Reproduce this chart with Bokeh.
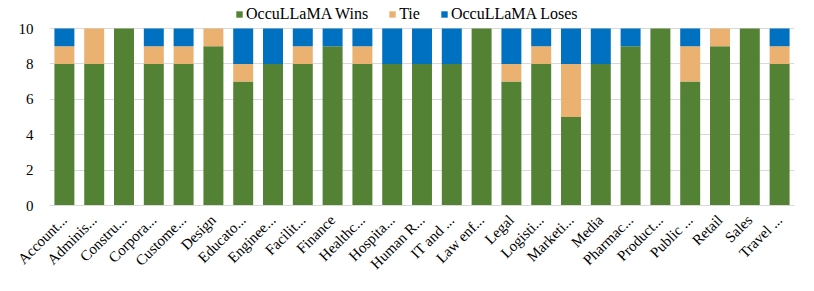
import math
from bokeh.plotting import figure
from bokeh.models import FactorRange, Range1d, FixedTicker, Legend, LegendItem
from bokeh.embed import file_html
from bokeh.resources import INLINE

categories = ["Account...", "Adminis...", "Constru...", "Corpora...", "Custome...", "Design",
              "Educato...", "Enginee...", "Facilit...", "Finance", "Healthc...", "Hospita...",
              "Human R...", "IT and ...", "Law enf...", "Legal", "Logisti...", "Marketi...",
              "Media", "Pharmac...", "Product...", "Public ...", "Retail", "Sales", "Travel ..."]
wins = [8, 8, 10, 8, 8, 9, 7, 8, 8, 9, 8, 8, 8, 8, 10, 7, 8, 5, 8, 9, 10, 7, 9, 10, 8]
ties = [1, 2, 0, 1, 1, 1, 1, 0, 1, 0, 1, 0, 0, 0, 0, 1, 1, 3, 0, 0, 0, 2, 1, 0, 1]
loses = [1, 0, 0, 1, 1, 0, 2, 2, 1, 1, 1, 2, 2, 2, 0, 2, 1, 2, 2, 1, 0, 1, 0, 0, 1]
series = ["OccuLLaMA Wins", "Tie", "OccuLLaMA Loses"]
colors = ["#548235", "#EAB171", "#0070C0"]
y_ticks = [0, 2, 4, 6, 8, 10]

FONT = "Liberation Serif"

# frame spans from 4px to 205px; value 10 sits at 28px, leaving room for the legend
p = figure(width=806, height=283, output_backend="svg", toolbar_location=None,
           x_range=FactorRange(*categories, range_padding=0),
           y_range=Range1d(0, 10 * 201 / 177), min_border_left=49, min_border_right=12,
           min_border_top=4, min_border_bottom=78)

src = dict(cat=categories, w=wins, t=ties, l=loses)
rs = p.vbar_stack(["w", "t", "l"], x="cat", width=0.67, color=colors, source=src, line_width=0)

p.outline_line_color = None
p.xgrid.grid_line_color = None
p.ygrid.grid_line_color = "#D9D9D9"
p.ygrid.ticker = FixedTicker(ticks=y_ticks)

p.yaxis.ticker = FixedTicker(ticks=y_ticks)
p.yaxis.axis_line_color = None
p.yaxis.major_tick_line_color = None
p.yaxis.minor_tick_line_color = None
p.yaxis.major_label_text_font = FONT
p.yaxis.major_label_text_font_size = "15px"
p.yaxis.major_label_text_color = "#000000"
p.yaxis.major_label_standoff = 10

p.xaxis.axis_line_color = "#D9D9D9"
p.xaxis.major_tick_line_color = None
p.xaxis.minor_tick_line_color = None
p.xaxis.major_label_text_font = FONT
p.xaxis.major_label_text_font_size = "15px"
p.xaxis.major_label_text_color = "#000000"
p.xaxis.major_label_orientation = math.pi / 4
p.xaxis.major_label_standoff = 6

legend = Legend(items=[LegendItem(label=s, renderers=[r]) for s, r in zip(series, rs)],
                orientation="horizontal", location=(186, 182),
                label_text_font=FONT, label_text_font_size="16px", label_text_color="#000000",
                glyph_width=8, glyph_height=8, label_standoff=3, spacing=20,
                padding=0, margin=0, border_line_color=None, background_fill_alpha=0,
                label_height=14)
p.add_layout(legend)

open("out.html", "w").write(file_html(p, INLINE))
